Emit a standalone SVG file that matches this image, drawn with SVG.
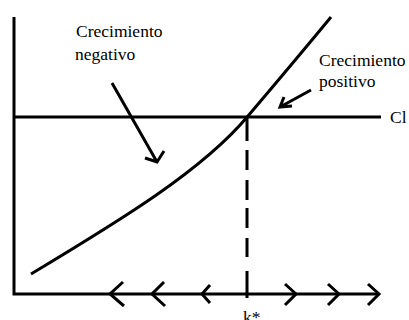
<svg xmlns="http://www.w3.org/2000/svg" width="409" height="320" viewBox="0 0 409 320">
<style>
.ln{fill:none;stroke:#000;stroke-width:3;stroke-linecap:butt;stroke-linejoin:miter}
.tx{font-family:"Liberation Serif","Times New Roman",serif;font-size:17.5px;fill:#000}
</style>
<rect width="409" height="320" fill="#fff"/>
<g id="axes">
<path class="ln" d="M14,17 V294 H379"/>
<path class="ln" d="M14,117 H381"/>
</g>
<g id="curve">
<path class="ln" d="M31,274 C121,220 203,170 248,116 C276,83 303,51 331,17"/>
</g>
<g id="dashed">
<path class="ln" d="M247,117 V141 M247,150 V170 M247,180 V200 M247,208 V228 M247,238 V257 M247,271 V298"/>
</g>
<g id="chevrons">
<path class="ln" d="M123,282 L110,294 L124,306 M164,282 L152,294 L165,306 M210,285 L202,294 L210,303"/>
<path class="ln" d="M285,284 L296,294 L285,305 M328,284 L339,294 L328,305 M368,284 L379,294 L368,305"/>
</g>
<g id="connectors">
<path class="ln" d="M112,83 L157,162 M145,158 L157,162 L164,151"/>
<path class="ln" d="M311,90 L280,107 M284,97 L280,107 L292,106"/>
</g>
<g id="labels">
<text class="tx" x="76" y="37">Crecimiento</text>
<text class="tx" x="75" y="60">negativo</text>
<text class="tx" x="319" y="66">Crecimiento</text>
<text class="tx" x="319" y="87">positivo</text>
<text class="tx" x="390" y="123">Cl</text>
<text class="tx" x="243" y="323">k*</text>
</g>
</svg>
